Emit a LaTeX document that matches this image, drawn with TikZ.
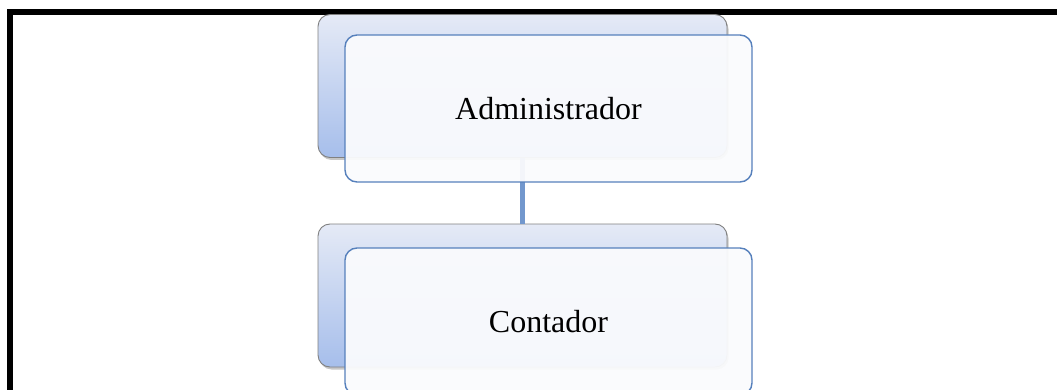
\documentclass[tikz,border=0pt]{standalone}
\usepackage{fontspec}
\setmainfont{Liberation Serif}
\usetikzlibrary{shadows}
\definecolor{backtop}{HTML}{E5EAF6}
\definecolor{backbot}{HTML}{A6BEEB}
\definecolor{frontline}{HTML}{5680BC}
\definecolor{frontfill}{HTML}{FAFBFD}
\definecolor{linkcol}{HTML}{7297CD}
\tikzset{
  backbox/.style={draw=gray, line width=0.9pt, rounded corners=12pt,
    top color=backtop, bottom color=backbot, minimum width=409pt, minimum height=143pt,
    drop shadow={shadow xshift=1.5pt, shadow yshift=-2.5pt, opacity=0.45}},
  frontbox/.style={draw=frontline, line width=1.4pt, rounded corners=12pt,
    fill=frontfill, fill opacity=0.95, text opacity=1, minimum width=407pt, minimum height=147pt,
    font=\fontsize{32}{38}\selectfont},
  link/.style={draw=linkcol, line width=5pt}
}
\begin{document}
\begin{tikzpicture}[x=1pt, y=1pt]
  \useasboundingbox (0,0) rectangle (1057,-390);
  % frame
  \draw[line width=6pt] (10,-395) -- (10,-12) -- (1057,-12);
  % back cards
  \node[backbox] (backAdmin) at (522.5,-86) {};
  \node[backbox] (backCont) at (522.5,-295.5) {};
  \draw[link] (backAdmin.south) -- (backCont.north);
  % front cards
  \node[frontbox] (admin) at (548.5,-108.5) {Administrador};
  \node[frontbox] (cont) at (548.5,-321.5) {Contador};
\end{tikzpicture}
\end{document}
